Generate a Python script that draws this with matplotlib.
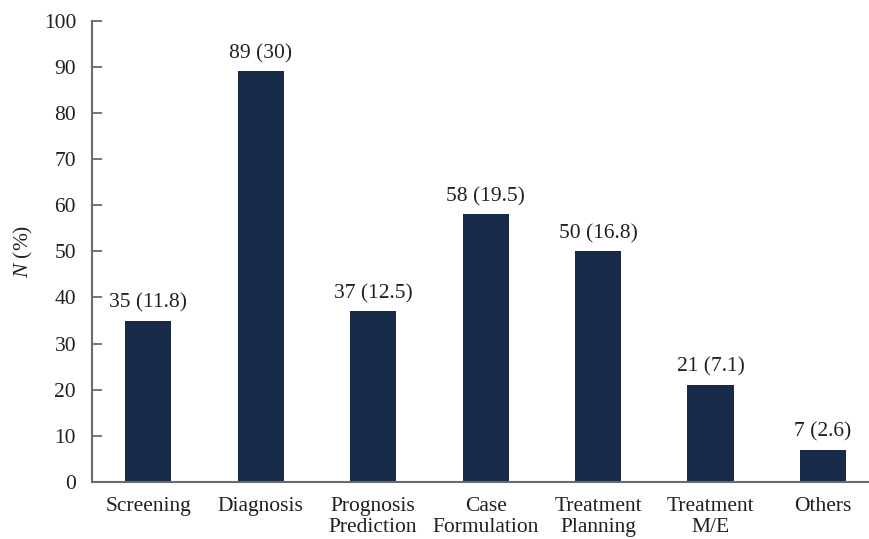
import numpy as np
import matplotlib
matplotlib.use('Agg')
import matplotlib.pyplot as plt

plt.rcParams['font.family'] = ['Liberation Serif', 'DejaVu Serif']
plt.rcParams['mathtext.fontset'] = 'custom'
plt.rcParams['mathtext.it'] = 'Liberation Serif:italic'
plt.rcParams['mathtext.rm'] = 'Liberation Serif'

categories = ['Screening', 'Diagnosis', 'Prognosis\nPrediction', 'Case\nFormulation',
              'Treatment\nPlanning', 'Treatment\nM/E', 'Others']
counts = [35, 89, 37, 58, 50, 21, 7]
percents = ['11.8', '30', '12.5', '19.5', '16.8', '7.1', '2.6']

bar_color = '#172a47'
axis_color = '#6b6b6b'
text_color = '#231f20'
fs = 15.5

fig = plt.figure(figsize=(8.69, 5.39), dpi=100)
ax = fig.add_axes([0.1059, 0.1058, 0.8941, 0.8558])

x = np.arange(len(categories))
ax.bar(x, counts, width=0.41, color=bar_color, zorder=2)

for xi, c, p in zip(x, counts, percents):
    ax.text(xi, c + 1.8, '%d (%s)' % (c, p), ha='center', va='bottom',
            fontsize=fs, color=text_color)

ax.set_xlim(-0.5, 6.41)
ax.set_ylim(0, 100)
ax.set_yticks(range(0, 101, 10))
ax.set_xticks(x)
ax.set_xticklabels(categories, fontsize=fs, color=text_color, linespacing=1.12)

for s in ['top', 'right']:
    ax.spines[s].set_visible(False)
for s in ['left', 'bottom']:
    ax.spines[s].set_color(axis_color)
    ax.spines[s].set_linewidth(1.5)

ax.tick_params(axis='y', direction='in', length=7, width=1.3, color=axis_color,
               labelsize=fs, labelcolor=text_color, pad=11.5)
ax.tick_params(axis='x', length=0, pad=11)

ax.set_ylabel(r'$\it{N}$ (%)', fontsize=fs, color=text_color, labelpad=6)

fig.savefig('out.png', dpi=100)
